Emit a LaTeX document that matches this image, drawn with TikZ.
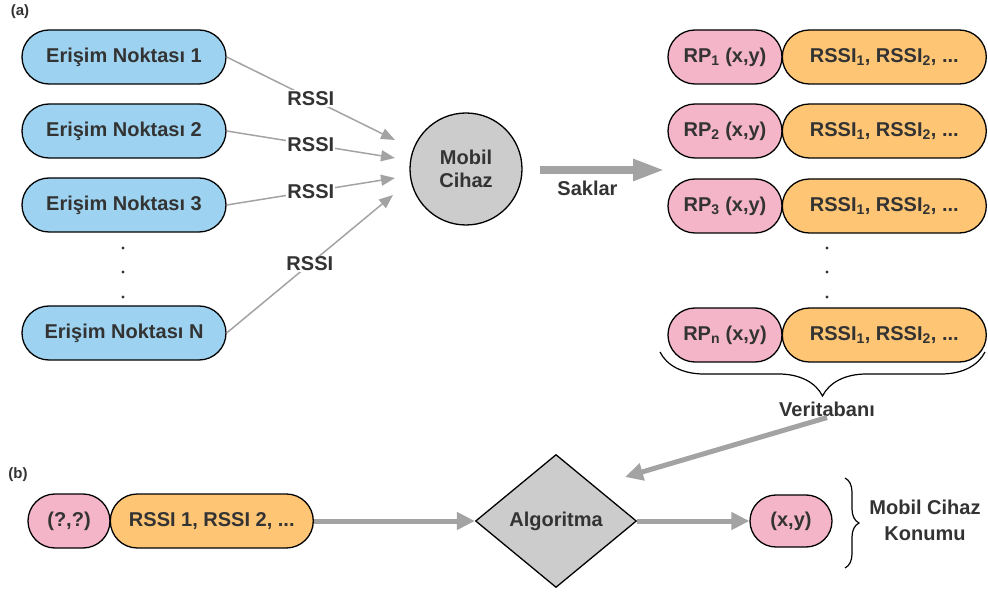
\documentclass[tikz,border=0pt]{standalone}
\usepackage{fontspec}
\setmainfont{Liberation Sans}
\usetikzlibrary{positioning,shapes.geometric,shapes.misc,arrows.meta,decorations.pathreplacing}

\definecolor{apblue}{HTML}{9DD3F1}
\definecolor{rppink}{HTML}{F4B5C9}
\definecolor{rsorange}{HTML}{FDC574}
\definecolor{devgray}{HTML}{CCCCCC}
\definecolor{arrgray}{HTML}{A3A3A3}
\definecolor{txtgray}{HTML}{333333}

\tikzset{
	lbl/.style={font=\fontsize{20}{23}\selectfont\bfseries, text=txtgray, inner sep=1pt},
	pill/.style={lbl, rounded rectangle, draw=black, line width=1.3pt, minimum height=54pt, inner sep=0pt},
	ap/.style={pill, fill=apblue, minimum width=204pt},
	rp/.style={pill, fill=rppink, minimum width=114pt},
	rs/.style={pill, fill=rsorange, minimum width=204pt},
	rssi/.style={lbl, fill=white},
	thinarrow/.style={draw=arrgray, line width=1.5pt, -{Triangle[length=14pt,width=11pt]}},
	thickarrow/.style={draw=arrgray, line width=5pt, -{Triangle[length=18pt,width=17pt]}},
	brc/.style={decorate, decoration={brace, amplitude=#1}, line width=1.2pt}
}

\begin{document}
\begin{tikzpicture}[x=1pt,y=-1pt]
	\useasboundingbox (0,0) rectangle (988,593);
	
	% (a) Erisim noktalari
	\node[lbl, font=\fontsize{15}{17}\selectfont\bfseries] (parta) at (20,12) {(a)};
	\foreach \i/\y in {1/57,2/131,3/205,N/333} {
		\node[ap] (ap\i) at (124,\y) {Erişim Noktası \i};
	}
	\foreach \y in {248,272,297} {
		\fill[txtgray] (123,\y) circle (1.7pt);
	}
	
	% Mobil cihaz
	\node[circle, draw=black, line width=1.3pt, fill=devgray, minimum size=112pt, align=center, lbl] (mobil) at (466,169) {Mobil\\Cihaz};
	\coordinate (in1) at (395,140);
	\coordinate (in2) at (395,158);
	\coordinate (in3) at (395,178);
	\coordinate (inN) at (393,195);
	\foreach \i in {1,2,3,N} {
		\draw[thinarrow] (ap\i.east) -- node[rssi] {RSSI} (in\i);
	}
	
	% Saklar
	\coordinate (sak0) at (540,170);
	\coordinate (sak1) at (665,170);
	\draw[draw=arrgray, line width=8pt, -{Triangle[length=32pt,width=20pt]}] (sak0) -- node[lbl, pos=0.38, below=6pt] (saklar) {Saklar} (sak1);
	
	% Veritabani satirlari
	\foreach \i/\y in {1/57,2/131,3/206,n/335} {
		\node[rp] (rp\i) at (725,\y) {RP\textsubscript{\i} (x,y)};
		\node[rs, right=-1pt of rp\i] (rs\i) {RSSI\textsubscript{1}, RSSI\textsubscript{2}, ...};
	}
	\foreach \y in {248,272,297} {
		\fill[txtgray] (827,\y) circle (1.7pt);
	}
	\draw[brc=44pt] (985,352) -- (660,352);
	\node[lbl] (db) at (827,409) {Veritabanı};
	
	% (b) konum tahmini
	\node[lbl, font=\fontsize{15}{17}\selectfont\bfseries] (partb) at (18,475) {(b)};
	\node[rp, minimum width=82pt] (q) at (69,521) {(?,?)};
	\node[rs, minimum width=203pt, right=-1pt of q] (qrs) {RSSI 1, RSSI 2, ...};
	\node[diamond, draw=black, line width=1.3pt, fill=devgray, minimum width=161pt, minimum height=133pt, inner sep=0pt, lbl] (algo) at (556,521) {Algoritma};
	\node[rp, minimum width=82pt, minimum height=52pt] (xy) at (791,521) {(x,y)};
	\coordinate (dbin) at (625,477);
	
	\draw[thickarrow] (db.south) -- (dbin);
	\draw[thickarrow] (qrs.east) -- (algo.west);
	\draw[thickarrow] (algo.east) -- (xy.west);
	
	\draw[brc=14pt] (845,478) -- (845,568);
	\node[lbl, align=center, font=\fontsize{20}{26}\selectfont\bfseries] (konum) at (925,520) {Mobil Cihaz\\Konumu};
\end{tikzpicture}
\end{document}
